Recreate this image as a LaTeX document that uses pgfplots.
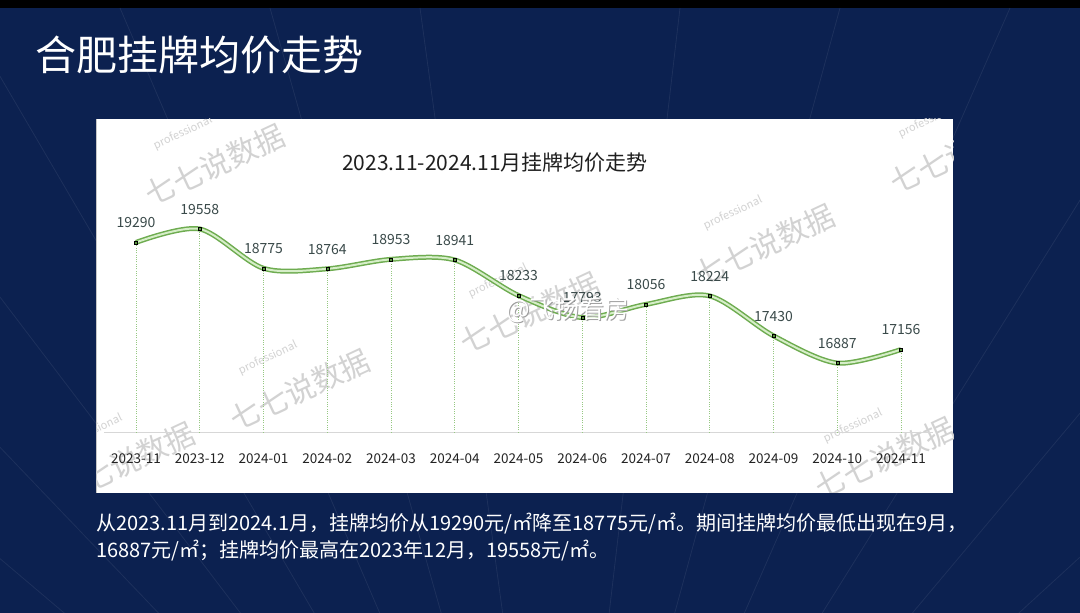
\documentclass[border=0pt]{standalone}
\usepackage{pgfplots}
\usepackage{pgfplotstable}
\pgfplotsset{compat=1.18}
\usepackage{fontspec}
\setmainfont{Noto Sans CJK SC}
\definecolor{navy}{RGB}{12,33,80}
\definecolor{lineg}{RGB}{110,172,80}
\definecolor{linel}{RGB}{214,238,200}
\definecolor{lined}{RGB}{88,150,62}
\definecolor{dropc}{RGB}{150,200,130}
\definecolor{basec}{RGB}{215,215,215}
\definecolor{lblc}{RGB}{58,74,74}
\definecolor{tickc}{RGB}{35,35,35}
\definecolor{wmc}{RGB}{210,210,210}

\pgfplotstableread{
x y label
0 19290 19290
1 19558 19558
2 18775 18775
3 18764 18764
4 18953 18953
5 18941 18941
6 18233 18233
7 17793 17793
8 18056 18056
9 18224 18224
10 17430 17430
11 16887 16887
12 17156 17156
}\pricedata

\begin{document}
\begin{tikzpicture}[x=1pt,y=1pt]
\useasboundingbox (0,0) rectangle (1080,613);
\fill[black] (0,0) rectangle (1080,613);
\fill[navy] (0,0) rectangle (1080,605);
% faint rays
\foreach \ex in {-900,-650,-420,-220,-40,120,270,420,680,840,1010,1200,1420,1680,1980}{
  \draw[white, opacity=0.07, line width=0.8pt] (560,-420) -- (\ex,605);
}
% panel
\fill[white] (96,120) rectangle (953,494);
\draw[gray!45, line width=0.8pt] (96.4,120) -- (96.4,494);
% watermarks
\begin{scope}
\clip (96,120) rectangle (953,494);
\foreach \px/\py in {215/448, 765/368, 300/223, 125/150, 885/155, 960/460, 530/300}{
  \node[text=wmc, rotate=25, font=\fontsize{30}{30}\selectfont, inner sep=0] at (\px,\py) {七七说数据};
  \node[text=wmc, rotate=25, font=\fontsize{11}{11}\selectfont, inner sep=0] at (\px-32,\py+32) {professional};
}
\end{scope}
% titles
\node[anchor=west, inner sep=0, text=white, font=\fontsize{41}{41}\selectfont] at (35,558) {合肥挂牌均价走势};
\node[inner sep=0, text=black!88, font=\fontsize{21}{21}\selectfont] at (495,450) {2023.11-2024.11月挂牌均价走势};
% bottom text
\node[anchor=west, inner sep=0, text=white, font=\fontsize{20}{20}\selectfont] at (96,89) {从2023.11月到2024.1月，挂牌均价从19290元/㎡降至18775元/㎡。期间挂牌均价最低出现在9月，};
\node[anchor=west, inner sep=0, text=white, font=\fontsize{20}{20}\selectfont] at (96,62) {16887元/㎡；挂牌均价最高在2023年12月，19558元/㎡。};

\begin{axis}[
  at={(104.1pt,180.3pt)}, anchor=south west,
  scale only axis, width=828.75pt, height=301.2pt,
  xmin=-0.5, xmax=12.5, ymin=15500, ymax=21500,
  axis x line=bottom, axis y line=none,
  x axis line style={-, draw=basec, line width=1.3pt},
  ytick=\empty,
  xtick={0,...,12},
  xticklabels={2023-11,2023-12,2024-01,2024-02,2024-03,2024-04,2024-05,2024-06,2024-07,2024-08,2024-09,2024-10,2024-11},
  major tick length=0pt,
  xticklabel style={font=\fontsize{13.5}{13.5}\selectfont, text=tickc, yshift=-17pt},
]
\addplot[ycomb, draw=dropc, line width=0.6pt, dash pattern=on 1pt off 1.3pt] table[x=x,y=y] {\pricedata};
\addplot[smooth, tension=0.5, draw=lineg, line width=5pt] table[x=x,y=y] {\pricedata};
\addplot[smooth, tension=0.5, draw=linel, line width=2pt] table[x=x,y=y] {\pricedata};
\addplot[only marks, mark=square*, mark size=1.5pt, mark options={fill=lined, draw=none},
  point meta=explicit symbolic, nodes near coords,
  nodes near coords style={font=\fontsize{14}{14}\selectfont, text=lblc, yshift=11pt}]
  table[x=x,y=y,meta=label] {\pricedata};
\end{axis}
% weibo watermark
\node[inner sep=0, text=gray!75, font=\fontsize{25}{25}\selectfont] at (569,302) {@飞扬看房};
\node[inner sep=0, text=white, font=\fontsize{25}{25}\selectfont] at (568,303) {@飞扬看房};
\end{tikzpicture}
\end{document}
